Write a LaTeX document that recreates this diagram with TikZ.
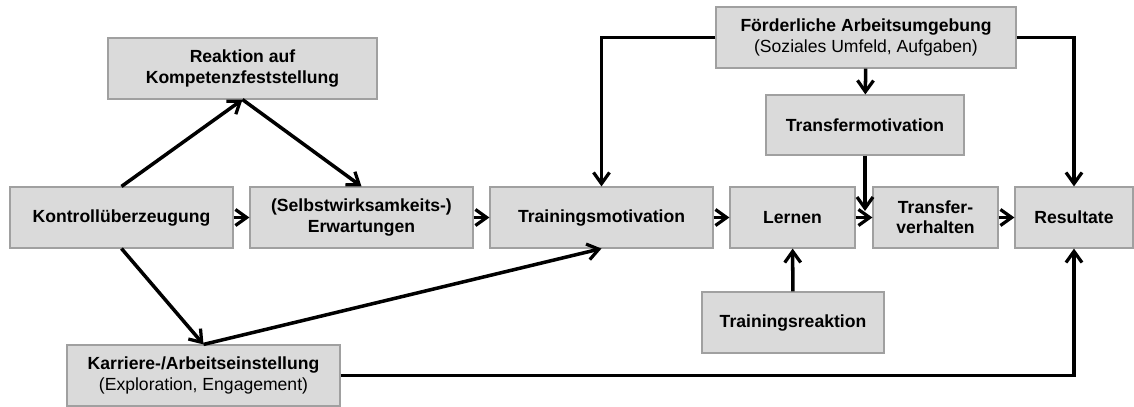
\documentclass[tikz,border=0pt]{standalone}
\usepackage{fontspec}
\setmainfont{Liberation Sans}
\usetikzlibrary{arrows.meta}
\definecolor{boxgray}{HTML}{DADADA}
\definecolor{edgegray}{HTML}{A0A0A0}
\tikzset{
  box/.style={draw=edgegray, line width=0.8pt, fill=boxgray, minimum height=1.525cm,
    inner sep=0pt, align=center, font=\fontsize{12.5}{14.5}\selectfont\bfseries},
  flow/.style={line width=2.5pt, -{Straight Barb[length=2.8mm,width=4mm,line width=2.3pt]}}
}
\begin{document}
\begin{tikzpicture}[x=0.025cm, y=-0.025cm]
      \useasboundingbox (0,0) rectangle (1134,407);
      \draw
        (121.5,217.5) node[box, minimum width=5.575cm] (kontroll){Kontrollüberzeugung}
        (361.5,217.5) node[box, minimum width=5.575cm] (selbst){(Selbstwirksamkeits-)\\Erwartungen}
        (601.5,217.5) node[box, minimum width=5.575cm] (trainmot){Trainingsmotivation}
        (792.5,217.5) node[box, minimum width=3.125cm] (lernen){Lernen}
        (935.5,217.5) node[box, minimum width=3.125cm] (transfer){Transfer-\\verhalten}
        (1074,217.5) node[box, minimum width=2.95cm] (result){Resultate}
        (242.5,68.5) node[box, minimum width=6.725cm] (reaktion){Reaktion auf\\Kompetenzfeststellung}
        (866,37.5) node[box, minimum width=7.5cm] (umgebung){Förderliche Arbeitsumgebung\\\mdseries(Soziales Umfeld, Aufgaben)}
        (865,125) node[box, minimum width=4.95cm, minimum height=1.5cm] (transmot){Transfermotivation}
        (793,322.5) node[box, minimum width=4.55cm] (trainreak){Trainingsreaktion}
        (203.5,375.5) node[box, minimum width=6.825cm] (karriere){Karriere-/Arbeitseinstellung\\\mdseries(Exploration, Engagement)};
      \coordinate (merge) at (865,211);
      \begin{scope}[flow]
        \draw (kontroll) to (selbst);
        \draw (selbst) to (trainmot);
        \draw (trainmot) to (lernen);
        \draw (lernen) to (transfer);
        \draw (transfer) to (result);
        \draw (kontroll.north) to (reaktion.south);
        \draw (reaktion.south) to (selbst.north);
        \draw (kontroll.south) to (karriere.north);
        \draw (karriere.north) to (trainmot.south);
        \draw (umgebung.west) -| (trainmot.north);
        \draw (umgebung.east) -| (result.north);
        \draw (umgebung) to (transmot);
        \draw (transmot.south) to (merge);
        \draw (trainreak) to (lernen);
        \draw (karriere.east) -| (result.south);
      \end{scope}
    \end{tikzpicture}
\end{document}
